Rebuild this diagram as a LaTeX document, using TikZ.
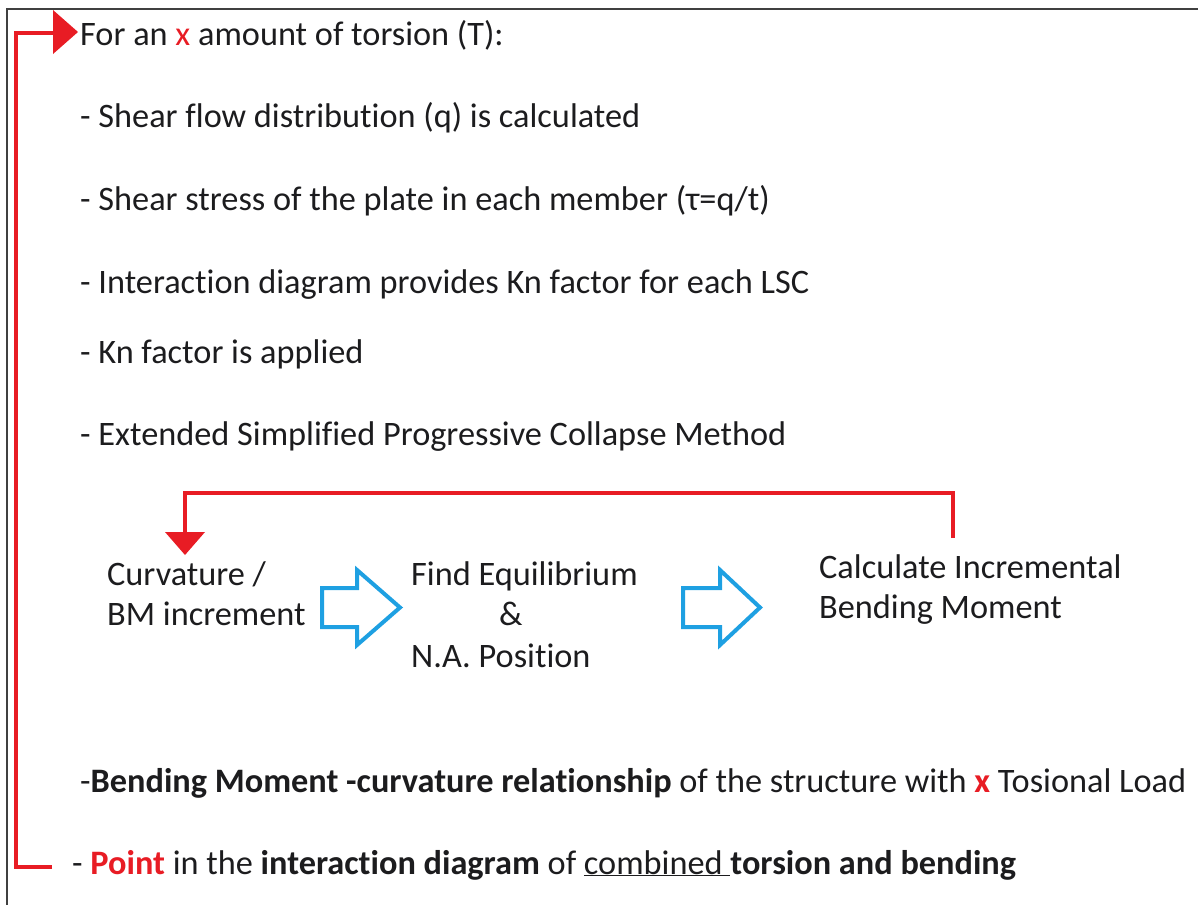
\documentclass[tikz,border=0pt]{standalone}
\usepackage{fontspec}
\setmainfont{Carlito}[Ligatures={NoCommon}]
\definecolor{redc}{RGB}{232,28,36}
\definecolor{bluec}{RGB}{30,160,226}
\definecolor{txt}{RGB}{28,28,30}
\begin{document}
\begin{tikzpicture}[x=1pt,y=-1pt,
  txtnode/.style={anchor=base west,inner sep=0pt,font=\fontsize{34.3}{40}\selectfont,text=txt},
  redline/.style={draw=redc,line width=4.5pt},
  redtip/.style={fill=redc},
  bluearrow/.style={draw=bluec,line width=4pt,line join=miter}]
\useasboundingbox (0,0) rectangle (1198,905);
\draw[line width=2pt, black!75] (1198,9) -- (7,9) -- (7,905);

% text lines
\node[txtnode] (l1) at (80,45) {For an \textcolor{redc}{x} amount of torsion (T):};
\node[txtnode] (l2) at (80,127) {- Shear flow distribution (q) is calculated};
\node[txtnode] (l3) at (80,210) {- Shear stress of the plate in each member (τ=q/t)};
\node[txtnode] (l4) at (80,293) {- Interaction diagram provides Kn factor for each LSC};
\node[txtnode] (l5) at (80,363) {- Kn factor is applied};
\node[txtnode] (l6) at (80,445) {- Extended Simplified Progressive Collapse Method};

\node[txtnode] (c1) at (107,585) {Curvature /};
\node[txtnode] (c2) at (107,625) {BM increment};
\node[txtnode] (f1) at (411,585) {Find Equilibrium};
\node[txtnode] (f2) at (499,625) {\&};
\node[txtnode] (f3) at (411,667) {N.A. Position};
\node[txtnode] (b1) at (819,578) {Calculate Incremental};
\node[txtnode] (b2) at (819,618) {Bending Moment};

\node[txtnode] (l7) at (80,792) {-\textbf{Bending Moment -curvature relationship} of the structure with \textcolor{redc}{\textbf{x}} Tosional Load};
\node[txtnode] (l8) at (72,874) {- \textcolor{redc}{\textbf{Point}} in the \textbf{interaction diagram} of \underline{combined\ }\textbf{torsion and bending}};

% blue arrows
\draw[bluearrow] (322,588) -- (357,588) -- (357,570) -- (400,607.5) -- (357,645) -- (357,627) -- (322,627) -- cycle;
\draw[bluearrow] (683,588) -- (720,588) -- (720,570) -- (760,607.5) -- (720,645) -- (720,627) -- (683,627) -- cycle;

% red outer loop
\coordinate (p0) at (52,867);
\coordinate (p1) at (16,867);
\coordinate (p2) at (16,33);
\coordinate (p3) at (55,33);
\draw[redline] (p0) -- (p1) -- (p2) -- (p3);
\fill[redtip] (53,10) -- (78,32) -- (53,54) -- cycle;

% red inner loop
\coordinate (q0) at (953,538);
\coordinate (q1) at (953,493);
\coordinate (q2) at (185,493);
\coordinate (q3) at (185,534);
\draw[redline] (q0) -- (q1) -- (q2) -- (q3);
\fill[redtip] (165,532) -- (205,532) -- (185,555) -- cycle;
\end{tikzpicture}
\end{document}
